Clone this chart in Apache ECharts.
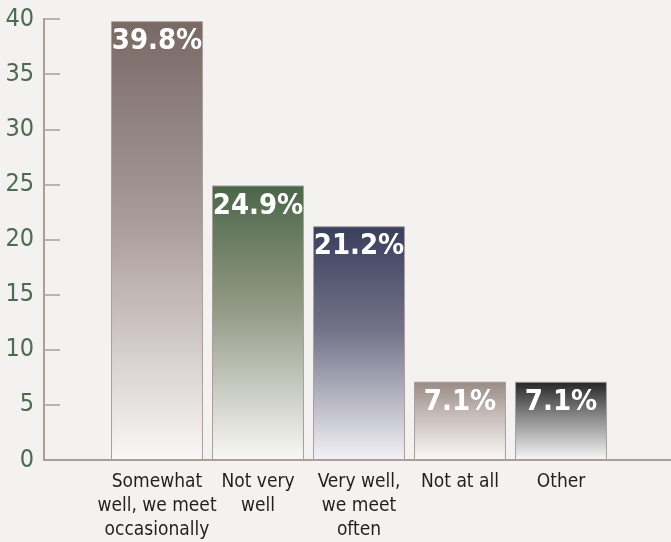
<!DOCTYPE html>
<html>
<head>
<meta charset="utf-8">
<script src="https://cdn.jsdelivr.net/npm/echarts@6/dist/echarts.min.js"></script>
<style>
  html, body { margin: 0; padding: 0; background: #f3f2f0; }
  #chart { width: 671px; height: 542px; }
</style>
</head>
<body>
<div id="chart"></div>
<script>
// How well respondents know their neighbours (percent of answers)
const categories = ['Somewhat\nwell, we meet\noccasionally', 'Not very\nwell', 'Very well,\nwe meet\noften', 'Not at all', 'Other'];
const shares = [39.8, 24.9, 21.2, 7.1, 7.1];
const topColors = ['#786965', '#4b6649', '#393e5c', '#998a85', '#252525'];
const midColors = ['#a89b98', '#939a86', '#75738a', '#c9bfbc', '#8a8a8a'];
const bottomColors = ['#faf8f7', '#f8f8f5', '#f2f2f6', '#faf8f7', '#f7f7f7'];
const yTicks = { min: 0, max: 40, interval: 5 };

const axisGray = '#aa9d9a';
const labelFont = '"DejaVu Sans Condensed", "Liberation Sans Narrow", sans-serif';

const chart = echarts.init(document.getElementById('chart'));

const barData = shares.map((v, i) => ({
  value: v,
  itemStyle: {
    color: new echarts.graphic.LinearGradient(0, 0, 0, 1, [
      { offset: 0, color: topColors[i] },
      { offset: 0.45, color: midColors[i] },
      { offset: 1, color: bottomColors[i] }
    ])
  }
}));

chart.setOption({
  backgroundColor: '#f3f2f0',
  animation: false,
  grid: [
    { left: 106.5, right: 59.5, top: 19, bottom: 82 },
    { left: 44, right: 0, top: 19, bottom: 82 }
  ],
  xAxis: [
    {
      type: 'category',
      gridIndex: 0,
      data: categories,
      axisLine: { show: false },
      axisTick: { show: false },
      axisLabel: {
        color: '#231f20',
        fontFamily: labelFont,
        fontSize: 19,
        lineHeight: 24,
        margin: 10,
        interval: 0
      }
    },
    {
      type: 'value',
      gridIndex: 1,
      min: 0,
      max: 1,
      axisLine: { show: true, lineStyle: { color: axisGray, width: 2 } },
      axisTick: { show: false },
      axisLabel: { show: false },
      splitLine: { show: false }
    }
  ],
  yAxis: [
    {
      type: 'value',
      gridIndex: 0,
      min: yTicks.min,
      max: yTicks.max,
      interval: yTicks.interval,
      show: false
    },
    {
      type: 'value',
      gridIndex: 1,
      min: yTicks.min,
      max: yTicks.max,
      interval: yTicks.interval,
      axisLine: { show: true, lineStyle: { color: axisGray, width: 2 } },
      axisTick: { show: true, inside: true, length: 16, lineStyle: { color: axisGray, width: 1.5 } },
      axisLabel: {
        color: '#4d6a52',
        fontFamily: labelFont,
        fontSize: 25,
        margin: 10
      },
      splitLine: { show: false }
    }
  ],
  series: [
    {
      type: 'bar',
      xAxisIndex: 0,
      yAxisIndex: 0,
      data: barData,
      barCategoryGap: '9%',
      itemStyle: { borderColor: axisGray, borderWidth: 1 },
      label: {
        show: true,
        position: 'insideTop',
        distance: 6,
        color: '#ffffff',
        fontFamily: labelFont,
        fontWeight: 'bold',
        fontSize: 29,
        formatter: p => p.value.toFixed(1) + '%'
      }
    }
  ]
});
</script>
</body>
</html>
